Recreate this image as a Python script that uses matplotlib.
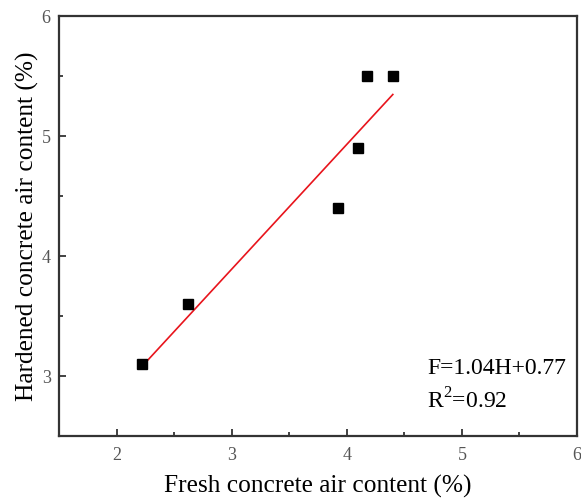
import matplotlib
matplotlib.use("Agg")
import matplotlib.pyplot as plt
import numpy as np
from matplotlib.ticker import MultipleLocator

fresh = [2.22, 2.62, 3.92, 4.10, 4.18, 4.40]
hardened = [3.10, 3.60, 4.40, 4.90, 5.50, 5.50]
slope, intercept = 1.04, 0.77
fit_x = [2.22, 4.40]

plt.rcParams['font.family'] = ['Liberation Serif', 'DejaVu Serif']
plt.rcParams['mathtext.fontset'] = 'custom'
plt.rcParams['mathtext.rm'] = 'Liberation Serif'

fig = plt.figure(figsize=(5.81, 5.01), dpi=100)
ax = fig.add_axes([59/581, 65/501, 518/581, 420/501])

ax.plot(fit_x, [slope*v + intercept for v in fit_x], color='#e8141c', lw=1.2, zorder=2)
ax.plot(fresh, hardened, 's', color='black', ms=6.5, zorder=3)

ax.set_xlim(1.5, 6)
ax.set_ylim(2.5, 6)
ax.xaxis.set_major_locator(MultipleLocator(1))
ax.xaxis.set_minor_locator(MultipleLocator(0.5))
ax.yaxis.set_major_locator(MultipleLocator(1))
ax.yaxis.set_minor_locator(MultipleLocator(0.5))
ax.tick_params(which='both', direction='in', top=False, right=False, colors='#333333',
               labelcolor='#555555', labelsize=13, width=1.3)
ax.tick_params(which='major', length=5)
ax.tick_params(which='minor', length=3)
ax.tick_params(axis='x', pad=8)
ax.tick_params(axis='y', pad=6)
for s in ax.spines.values():
    s.set_linewidth(1.6)
    s.set_color('#333333')

ax.set_xlabel('Fresh concrete air content (%)', fontsize=18.3, labelpad=8)
ax.set_ylabel('Hardened concrete air content (%)', fontsize=18.3, labelpad=2)

ax.text(4.70, 3.06, 'F=1.04H+0.77', fontsize=17, va='center', ha='left')
ax.text(4.70, 2.79, r'R$^\mathregular{2}$=0.92', fontsize=17, va='center', ha='left')

fig.savefig('out.png', dpi=100)
